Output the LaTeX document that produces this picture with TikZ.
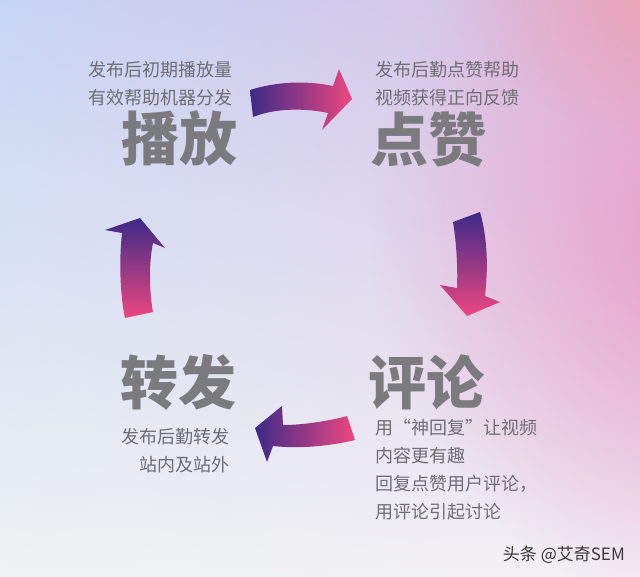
\documentclass[tikz,border=0pt]{standalone}
\usepackage{fontspec}
\setmainfont{Noto Sans CJK SC}
\usetikzlibrary{positioning, fadings, shadings}
\definecolor{BgTL}{HTML}{C7D5F5}
\definecolor{BgTR}{HTML}{DCC0E4}
\definecolor{BgBL}{HTML}{EEF2F3}
\definecolor{BgBR}{HTML}{F3EFF5}
\definecolor{BgGlow}{HTML}{E89DC9}
\definecolor{BgSalmon}{HTML}{ECA2B2}
\definecolor{ArrowPurple}{HTML}{3D2A88}
\definecolor{ArrowPink}{HTML}{EC4780}
\definecolor{TitleGray}{HTML}{7B7B7F}
\definecolor{TextGray}{HTML}{6E6E74}
\definecolor{MarkGray}{HTML}{3A3A3A}
\tikzfading[name=glowfade, inner color=transparent!0, outer color=transparent!100]
\tikzset{
  stagetitle/.style={inner sep=0pt, text=TitleGray,
    font=\fontsize{58}{60}\selectfont\bfseries},
  stagetext/.style={inner sep=0pt, text=TextGray,
    font=\fontsize{18}{28}\selectfont},
  arrowh/.style={left color=ArrowPurple, right color=ArrowPink},
  arrowv/.style={top color=ArrowPurple, bottom color=ArrowPink},
}

\begin{document}
\begin{tikzpicture}[x=1pt, y=-1pt]
  \useasboundingbox (0,0) rectangle (640,576);
  % background
  \begin{scope}
    \clip (0,0) rectangle (640,576);
    \shade[upper left=BgTL, upper right=BgTR, lower left=BgBL, lower right=BgBR]
      (0,0) rectangle (640,576);
    \fill[BgGlow, path fading=glowfade] (710,230) ellipse (340 and 380);
    \fill[BgSalmon, path fading=glowfade] (680,-10) ellipse (220 and 150);
  \end{scope}

  \node (play)    [stagetitle, anchor=east] at (238,138) {播放};
  \node (like)    [stagetitle, anchor=west] at (370,140) {点赞};
  \node (comment) [stagetitle, anchor=west] at (368,382) {评论};
  \node (share)   [stagetitle, anchor=east] at (237,382) {转发};

  \node (playtxt)    [stagetext, align=right, above left=4pt and 5pt of play.north east]
    {发布后初期播放量\\有效帮助机器分发};
  \node (liketxt)    [stagetext, align=left, above right=6pt and 5pt of like.north west]
    {发布后勤点赞帮助\\视频获得正向反馈};
  \node (commenttxt) [stagetext, align=left, below right=9pt and 7pt of comment.south west]
    {用“神回复”让视频\\内容更有趣\\回复点赞用户评论，\\用评论引起讨论};
  \node (sharetxt)   [stagetext, align=right, below left=18pt and 7pt of share.south east]
    {发布后勤转发\\站内及站外};

  \node (mark) [inner sep=0pt, text=MarkGray, font=\fontsize{17}{17}\selectfont,
    anchor=east] at (625,555) {头条 @艾奇SEM};

  % cycle arrows
  \shade[arrowh] (250,90) .. controls (275,82) and (305,80) .. (333,86)
    -- (339,69) -- (352,99) -- (322,130) -- (328,113)
    .. controls (305,108) and (275,108) .. (253,117) -- cycle;
  \shade[arrowv] (453,222) -- (480,212) .. controls (488,240) and (488,270) .. (485,296)
    -- (500,302) -- (467,316) -- (440,285) -- (457,288)
    .. controls (458,265) and (456,240) .. cycle;
  \shade[arrowh] (347,416) .. controls (325,422) and (300,425) .. (283,425)
    -- (282,406) -- (255,428) -- (267,462) -- (273,446)
    .. controls (300,449) and (330,446) .. (355,440) -- cycle;
  \shade[arrowv] (125,318) .. controls (120,295) and (119,260) .. (122,233)
    -- (105,230) -- (140,218) -- (165,248) -- (153,243)
    .. controls (149,262) and (149,290) .. (153,312) -- cycle;
\end{tikzpicture}
\end{document}
